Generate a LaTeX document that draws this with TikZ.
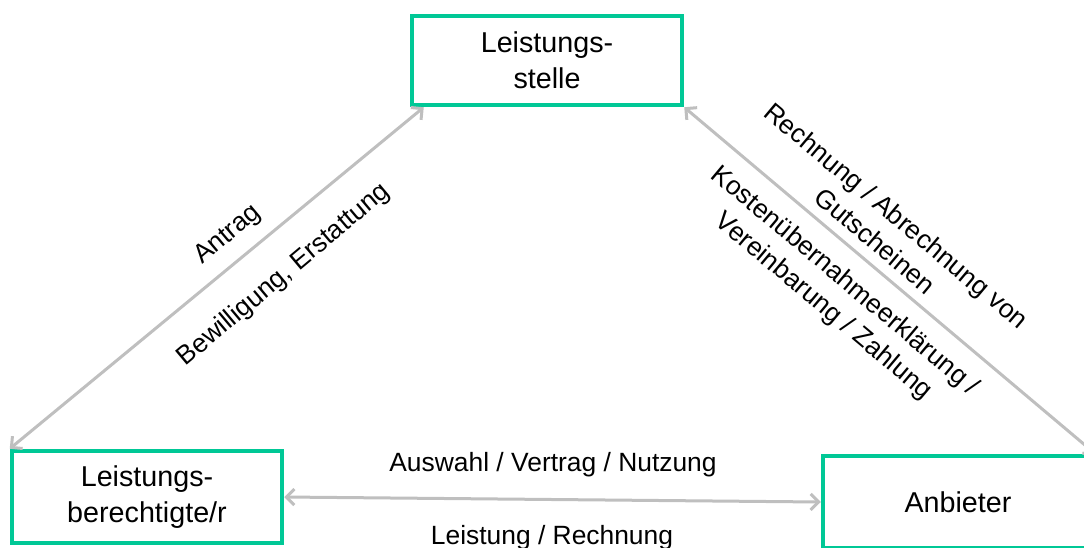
\documentclass[tikz,border=0pt]{standalone}
\usepackage{fontspec}
\setmainfont{Liberation Sans}
\usetikzlibrary{arrows.meta,calc}
\definecolor{boxgreen}{HTML}{00C896}
\definecolor{linegray}{HTML}{BFBFBF}
\begin{document}
\begin{tikzpicture}[x=1pt,y=-1pt,
  party/.style={draw=boxgreen, line width=4.5pt, fill=white, minimum width=270pt, minimum height=92pt,
    align=center, inner sep=0pt, font=\fontsize{28.7}{36}\selectfont},
  conn/.style={draw=linegray, line width=3pt, {Straight Barb[length=8pt,width=16pt]}-{Straight Barb[length=8pt,width=16pt]}},
  lbl/.style={inner sep=0pt, align=center, font=\fontsize{26.4}{33}\selectfont}]
\useasboundingbox (0,0) rectangle (1084,547);
\clip (0,0) rectangle (1084,547);
\node[party, minimum height=89pt] (ts) at (547,60.5) {Leistungs-\\stelle};
\node[party] (lb) at (147,497) {Leistungs-\\berechtigte/r};
\node[party] (an) at (958,502) {Anbieter};
\draw[conn] (lb.north west) -- ([xshift=14pt]ts.south west);
\draw[conn] (ts.south east) -- (an.north east);
\draw[conn] (lb.east) -- (an.west);
\node[lbl, rotate=40] (antrag) at (228,235) {Antrag};
\node[lbl, rotate=40] (bew) at (284,275) {Bewilligung, Erstattung};
\node[lbl, rotate=-40] (rech) at (886,228) {Rechnung / Abrechnung von\\Gutscheinen};
\node[lbl, rotate=-40] (kost) at (834,294) {Kostenübernahmeerklärung /\\Vereinbarung / Zahlung};
\node[lbl, anchor=base] (ausw) at (553,471) {Auswahl / Vertrag / Nutzung};
\node[lbl, anchor=base] (leist) at (552,544) {Leistung / Rechnung};
\end{tikzpicture}
\end{document}
